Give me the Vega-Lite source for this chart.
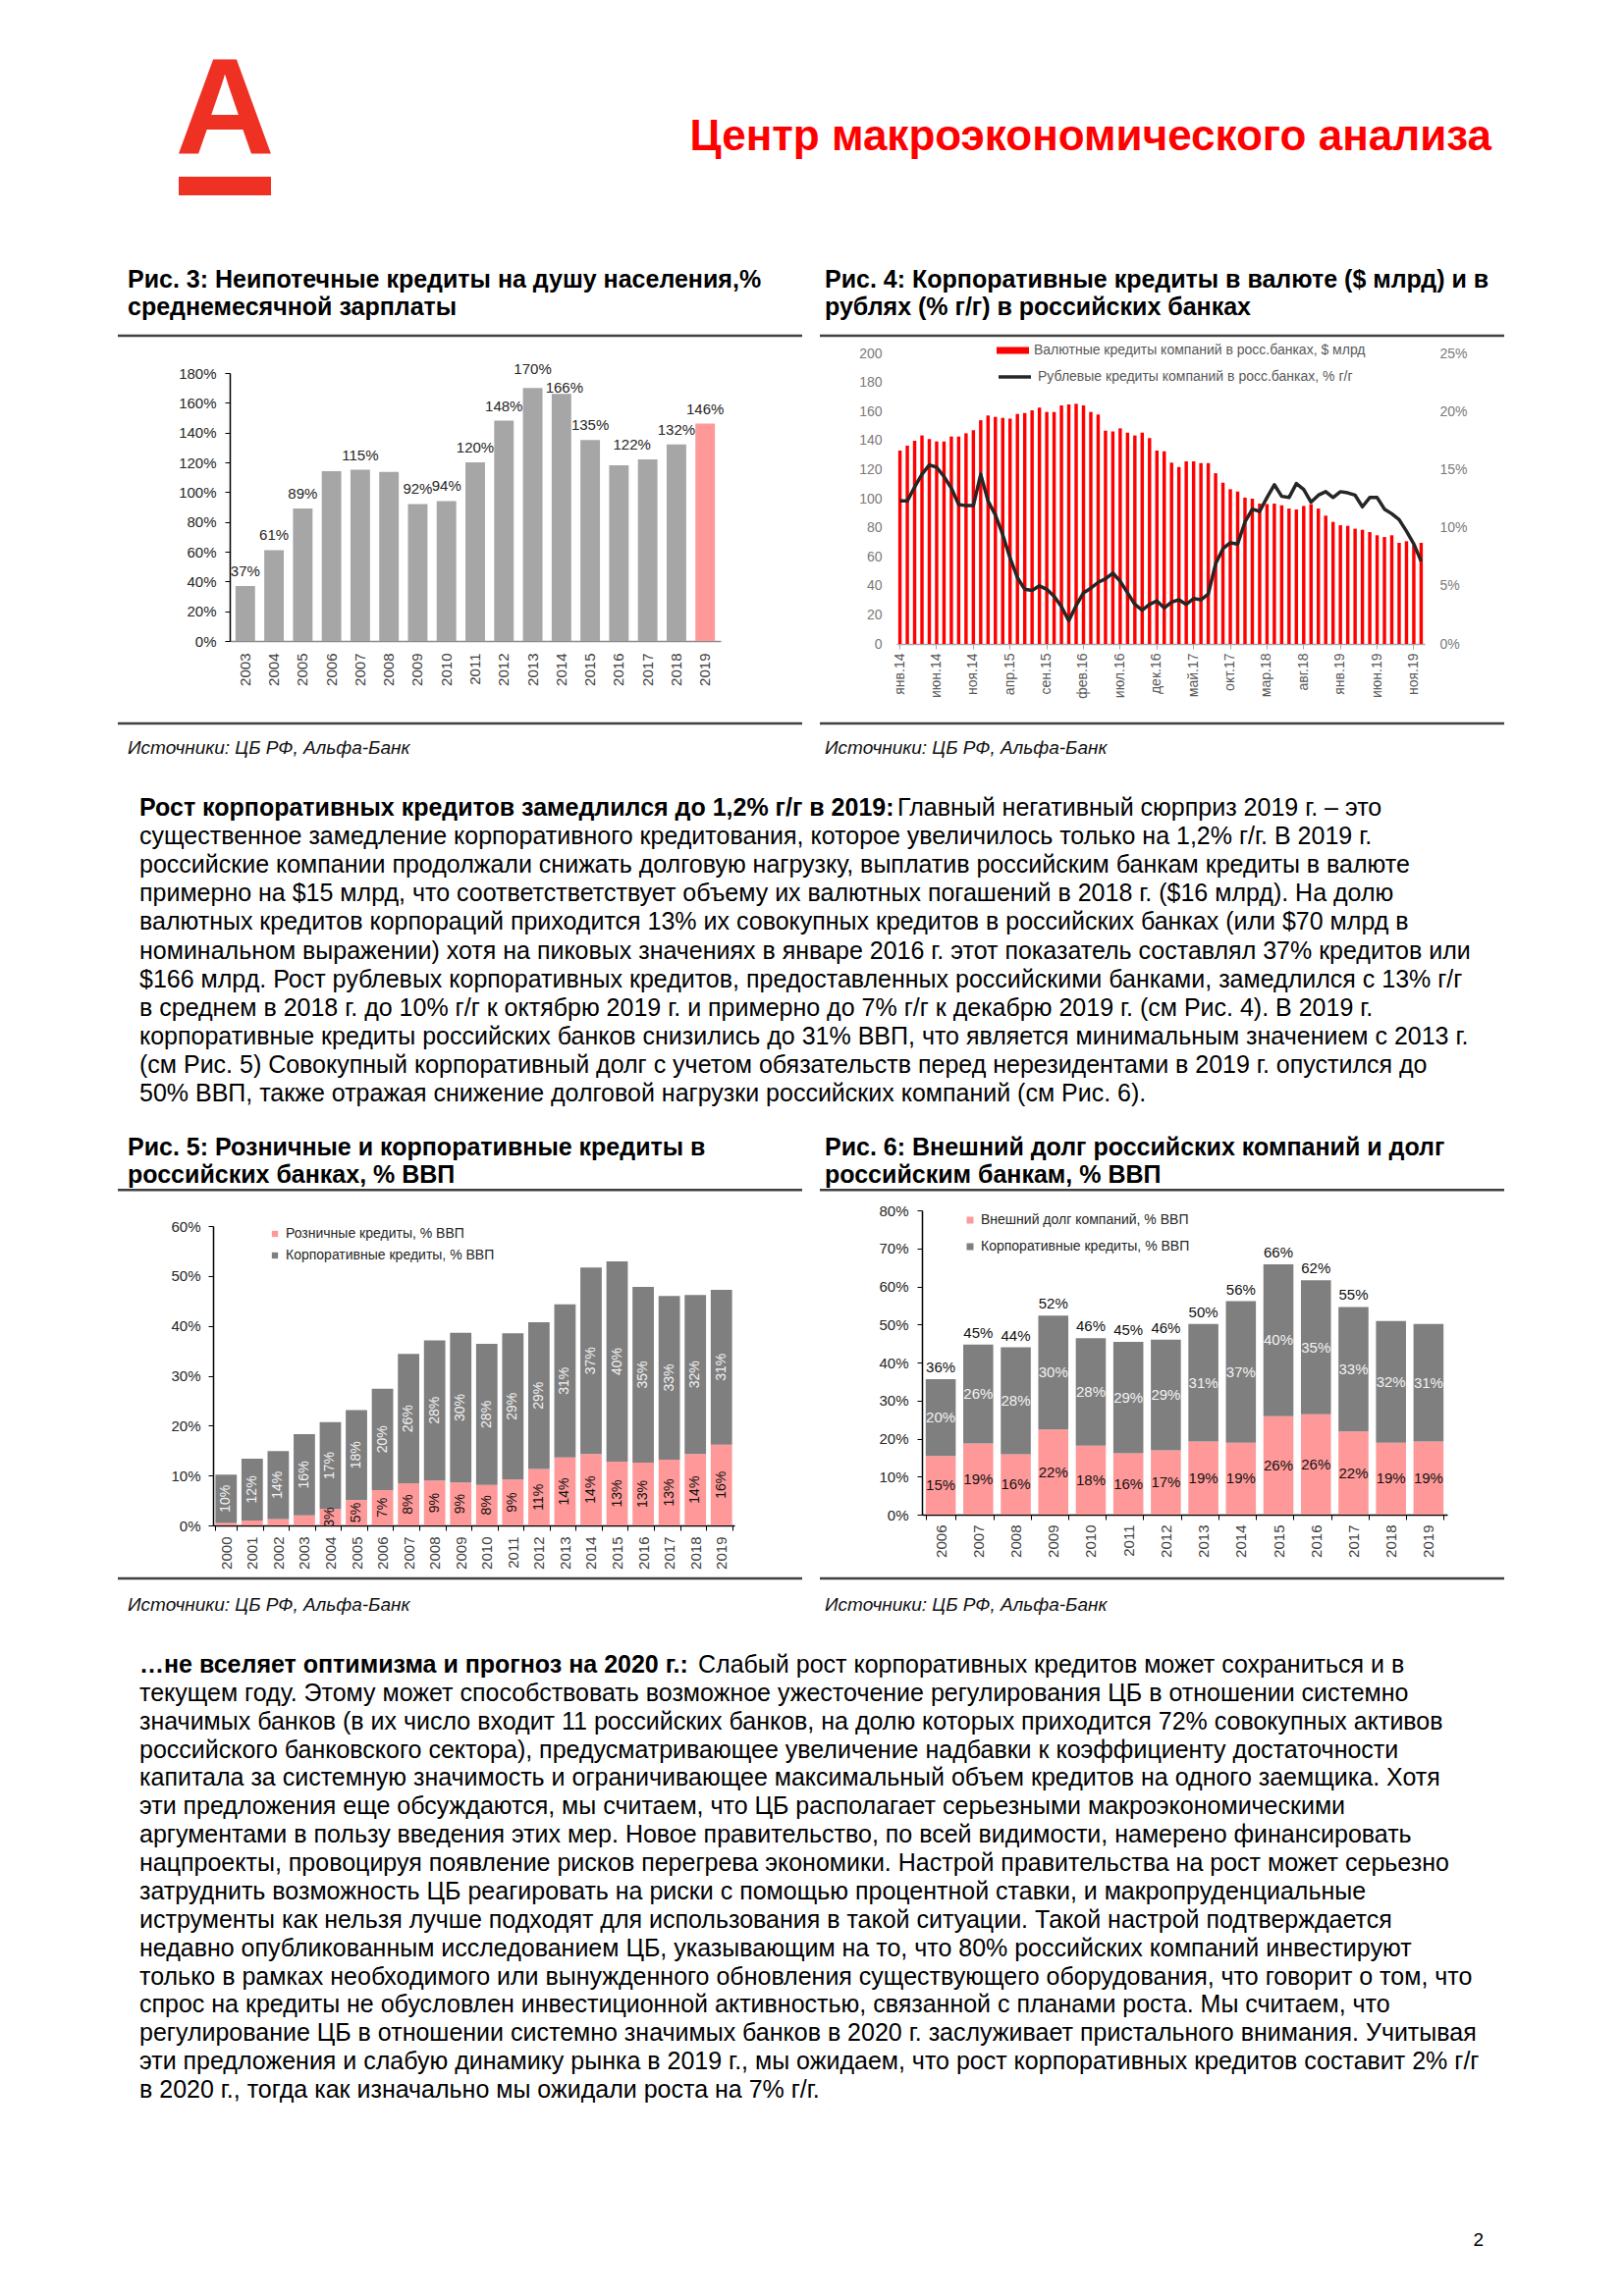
{
"$schema": "https://vega.github.io/schema/vega-lite/v6.json",
"width": 1654, "height": 2339, "autosize": {"type": "none"}, "padding": 0, "background": "white",
"config": {"view": {"stroke": null}, "font": "Liberation Sans", "axis": {"grid": false, "labelFont": "Liberation Sans"}, "legend": {"labelFont": "Liberation Sans", "padding": 0, "labelLimit": 0}, "text": {"font": "Liberation Sans"}},
"resolve": {"scale": {"x": "independent", "y": "independent", "color": "independent", "stroke": "independent"}, "axis": {"x": "independent", "y": "independent"}, "legend": {"color": "independent", "stroke": "independent"}},
"datasets": {
"fig3": [
{"year":"2003","v":0.37,"lab":"37%"},{"year":"2004","v":0.61,"lab":"61%"},{"year":"2005","v":0.89,"lab":"89%"},{"year":"2006","v":1.14,"lab":null},{"year":"2007","v":1.15,"lab":"115%"},{"year":"2008","v":1.135,"lab":null},{"year":"2009","v":0.92,"lab":"92%"},{"year":"2010","v":0.94,"lab":"94%"},{"year":"2011","v":1.2,"lab":"120%"},{"year":"2012","v":1.48,"lab":"148%"},{"year":"2013","v":1.7,"lab":"170%"},{"year":"2014","v":1.66,"lab":"166%"},{"year":"2015","v":1.35,"lab":"135%"},{"year":"2016","v":1.18,"lab":null},{"year":"2017","v":1.22,"lab":"122%"},{"year":"2018","v":1.32,"lab":"132%"},{"year":"2019","v":1.46,"lab":"146%"}
],
"fig4": [
{"m":"янв.14","usd":133.1,"rub":0.123},{"m":"фев.14","usd":136.5,"rub":0.123},{"m":"мар.14","usd":139.9,"rub":0.135},{"m":"апр.14","usd":143.5,"rub":0.146},{"m":"май.14","usd":141.0,"rub":0.154},{"m":"июн.14","usd":139.4,"rub":0.152},{"m":"июл.14","usd":139.4,"rub":0.144},{"m":"авг.14","usd":142.8,"rub":0.134},{"m":"сен.14","usd":142.8,"rub":0.12},{"m":"окт.14","usd":145.0,"rub":0.119},{"m":"ноя.14","usd":147.1,"rub":0.119},{"m":"дек.14","usd":154.0,"rub":0.146},
{"m":"янв.15","usd":157.2,"rub":0.123},{"m":"фев.15","usd":156.3,"rub":0.111},{"m":"мар.15","usd":155.6,"rub":0.094},{"m":"апр.15","usd":155.1,"rub":0.074},{"m":"май.15","usd":158.3,"rub":0.057},{"m":"июн.15","usd":159.0,"rub":0.047},{"m":"июл.15","usd":160.8,"rub":0.046},{"m":"авг.15","usd":162.6,"rub":0.05},{"m":"сен.15","usd":159.7,"rub":0.047},{"m":"окт.15","usd":159.7,"rub":0.041},{"m":"ноя.15","usd":164.2,"rub":0.032},{"m":"дек.15","usd":164.8,"rub":0.02},
{"m":"янв.16","usd":165.3,"rub":0.033},{"m":"фев.16","usd":164.2,"rub":0.044},{"m":"мар.16","usd":159.7,"rub":0.048},{"m":"апр.16","usd":157.9,"rub":0.053},{"m":"май.16","usd":146.8,"rub":0.056},{"m":"июн.16","usd":146.2,"rub":0.061},{"m":"июл.16","usd":148.4,"rub":0.054},{"m":"авг.16","usd":145.5,"rub":0.044},{"m":"сен.16","usd":143.5,"rub":0.034},{"m":"окт.16","usd":145.5,"rub":0.029},{"m":"ноя.16","usd":141.7,"rub":0.034},{"m":"дек.16","usd":133.1,"rub":0.037},
{"m":"янв.17","usd":132.6,"rub":0.031},{"m":"фев.17","usd":124.8,"rub":0.036},{"m":"мар.17","usd":121.8,"rub":0.038},{"m":"апр.17","usd":125.7,"rub":0.034},{"m":"май.17","usd":125.7,"rub":0.039},{"m":"июн.17","usd":124.5,"rub":0.038},{"m":"июл.17","usd":124.5,"rub":0.043},{"m":"авг.17","usd":117.5,"rub":0.069},{"m":"сен.17","usd":111.0,"rub":0.082},{"m":"окт.17","usd":106.5,"rub":0.087},{"m":"ноя.17","usd":104.9,"rub":0.086},{"m":"дек.17","usd":100.7,"rub":0.105},
{"m":"янв.18","usd":100.0,"rub":0.116},{"m":"фев.18","usd":96.6,"rub":0.114},{"m":"мар.18","usd":96.2,"rub":0.126},{"m":"апр.18","usd":96.6,"rub":0.137},{"m":"май.18","usd":95.5,"rub":0.127},{"m":"июн.18","usd":93.2,"rub":0.126},{"m":"июл.18","usd":92.6,"rub":0.138},{"m":"авг.18","usd":95.0,"rub":0.133},{"m":"сен.18","usd":96.2,"rub":0.122},{"m":"окт.18","usd":93.2,"rub":0.128},{"m":"ноя.18","usd":88.3,"rub":0.131},{"m":"дек.18","usd":84.0,"rub":0.126},
{"m":"янв.19","usd":81.7,"rub":0.131},{"m":"фев.19","usd":81.3,"rub":0.13},{"m":"мар.19","usd":79.3,"rub":0.128},{"m":"апр.19","usd":78.6,"rub":0.118},{"m":"май.19","usd":77.0,"rub":0.126},{"m":"июн.19","usd":74.8,"rub":0.126},{"m":"июл.19","usd":73.6,"rub":0.116},{"m":"авг.19","usd":74.8,"rub":0.112},{"m":"сен.19","usd":69.6,"rub":0.107},{"m":"окт.19","usd":70.7,"rub":0.097},{"m":"ноя.19","usd":68.0,"rub":0.086},{"m":"дек.19","usd":69.6,"rub":0.071}
],
"fig5": [
{"year":"2000","s":"Розничные кредиты, % ВВП","v":0.005},{"year":"2000","s":"Корпоративные кредиты, % ВВП","v":0.097},
{"year":"2001","s":"Розничные кредиты, % ВВП","v":0.010},{"year":"2001","s":"Корпоративные кредиты, % ВВП","v":0.124},
{"year":"2002","s":"Розничные кредиты, % ВВП","v":0.013},{"year":"2002","s":"Корпоративные кредиты, % ВВП","v":0.136},
{"year":"2003","s":"Розничные кредиты, % ВВП","v":0.020},{"year":"2003","s":"Корпоративные кредиты, % ВВП","v":0.163},
{"year":"2004","s":"Розничные кредиты, % ВВП","v":0.033},{"year":"2004","s":"Корпоративные кредиты, % ВВП","v":0.174},
{"year":"2005","s":"Розничные кредиты, % ВВП","v":0.051},{"year":"2005","s":"Корпоративные кредиты, % ВВП","v":0.180},
{"year":"2006","s":"Розничные кредиты, % ВВП","v":0.071},{"year":"2006","s":"Корпоративные кредиты, % ВВП","v":0.203},
{"year":"2007","s":"Розничные кредиты, % ВВП","v":0.084},{"year":"2007","s":"Корпоративные кредиты, % ВВП","v":0.260},
{"year":"2008","s":"Розничные кредиты, % ВВП","v":0.090},{"year":"2008","s":"Корпоративные кредиты, % ВВП","v":0.281},
{"year":"2009","s":"Розничные кредиты, % ВВП","v":0.086},{"year":"2009","s":"Корпоративные кредиты, % ВВП","v":0.300},
{"year":"2010","s":"Розничные кредиты, % ВВП","v":0.081},{"year":"2010","s":"Корпоративные кредиты, % ВВП","v":0.283},
{"year":"2011","s":"Розничные кредиты, % ВВП","v":0.092},{"year":"2011","s":"Корпоративные кредиты, % ВВП","v":0.293},
{"year":"2012","s":"Розничные кредиты, % ВВП","v":0.113},{"year":"2012","s":"Корпоративные кредиты, % ВВП","v":0.294},
{"year":"2013","s":"Розничные кредиты, % ВВП","v":0.136},{"year":"2013","s":"Корпоративные кредиты, % ВВП","v":0.307},
{"year":"2014","s":"Розничные кредиты, % ВВП","v":0.143},{"year":"2014","s":"Корпоративные кредиты, % ВВП","v":0.374},
{"year":"2015","s":"Розничные кредиты, % ВВП","v":0.128},{"year":"2015","s":"Корпоративные кредиты, % ВВП","v":0.401},
{"year":"2016","s":"Розничные кредиты, % ВВП","v":0.126},{"year":"2016","s":"Корпоративные кредиты, % ВВП","v":0.352},
{"year":"2017","s":"Розничные кредиты, % ВВП","v":0.132},{"year":"2017","s":"Корпоративные кредиты, % ВВП","v":0.328},
{"year":"2018","s":"Розничные кредиты, % ВВП","v":0.143},{"year":"2018","s":"Корпоративные кредиты, % ВВП","v":0.319},
{"year":"2019","s":"Розничные кредиты, % ВВП","v":0.162},{"year":"2019","s":"Корпоративные кредиты, % ВВП","v":0.310}
],
"fig6": [
{"year":"2006","s":"Внешний долг компаний, % ВВП","v":0.154},{"year":"2006","s":"Корпоративные кредиты, % ВВП","v":0.202},
{"year":"2007","s":"Внешний долг компаний, % ВВП","v":0.187},{"year":"2007","s":"Корпоративные кредиты, % ВВП","v":0.260},
{"year":"2008","s":"Внешний долг компаний, % ВВП","v":0.159},{"year":"2008","s":"Корпоративные кредиты, % ВВП","v":0.281},
{"year":"2009","s":"Внешний долг компаний, % ВВП","v":0.224},{"year":"2009","s":"Корпоративные кредиты, % ВВП","v":0.299},
{"year":"2010","s":"Внешний долг компаний, % ВВП","v":0.181},{"year":"2010","s":"Корпоративные кредиты, % ВВП","v":0.283},
{"year":"2011","s":"Внешний долг компаний, % ВВП","v":0.161},{"year":"2011","s":"Корпоративные кредиты, % ВВП","v":0.293},
{"year":"2012","s":"Внешний долг компаний, % ВВП","v":0.169},{"year":"2012","s":"Корпоративные кредиты, % ВВП","v":0.291},
{"year":"2013","s":"Внешний долг компаний, % ВВП","v":0.192},{"year":"2013","s":"Корпоративные кредиты, % ВВП","v":0.309},
{"year":"2014","s":"Внешний долг компаний, % ВВП","v":0.189},{"year":"2014","s":"Корпоративные кредиты, % ВВП","v":0.372},
{"year":"2015","s":"Внешний долг компаний, % ВВП","v":0.259},{"year":"2015","s":"Корпоративные кредиты, % ВВП","v":0.399},
{"year":"2016","s":"Внешний долг компаний, % ВВП","v":0.264},{"year":"2016","s":"Корпоративные кредиты, % ВВП","v":0.352},
{"year":"2017","s":"Внешний долг компаний, % ВВП","v":0.219},{"year":"2017","s":"Корпоративные кредиты, % ВВП","v":0.327},
{"year":"2018","s":"Внешний долг компаний, % ВВП","v":0.189},{"year":"2018","s":"Корпоративные кредиты, % ВВП","v":0.320},
{"year":"2019","s":"Внешний долг компаний, % ВВП","v":0.192},{"year":"2019","s":"Корпоративные кредиты, % ВВП","v":0.309}
],
"p1": [
{"ln":1,"part":"lead","t":"Рост корпоративных кредитов замедлился до 1,2% г/г в 2019:"},
{"ln":1,"part":"rest","t":"Главный негативный сюрприз 2019 г. – это"},
{"ln":2,"part":"body","t":"существенное замедление корпоративного кредитования, которое увеличилось только на 1,2% г/г. В 2019 г."},
{"ln":3,"part":"body","t":"российские компании продолжали снижать долговую нагрузку, выплатив российским банкам кредиты в валюте"},
{"ln":4,"part":"body","t":"примерно на $15 млрд, что соответстветствует объему их валютных погашений в 2018 г. ($16 млрд). На долю"},
{"ln":5,"part":"body","t":"валютных кредитов корпораций приходится 13% их совокупных кредитов в российских банках (или $70 млрд в"},
{"ln":6,"part":"body","t":"номинальном выражении) хотя на пиковых значениях в январе 2016 г. этот показатель составлял 37% кредитов или"},
{"ln":7,"part":"body","t":"$166 млрд. Рост рублевых корпоративных кредитов, предоставленных российскими банками, замедлился с 13% г/г"},
{"ln":8,"part":"body","t":"в среднем в 2018 г. до 10% г/г к октябрю 2019 г. и примерно до 7% г/г к декабрю 2019 г. (см Рис. 4). В 2019 г."},
{"ln":9,"part":"body","t":"корпоративные кредиты российских банков снизились до 31% ВВП, что является минимальным значением с 2013 г."},
{"ln":10,"part":"body","t":"(см Рис. 5) Совокупный корпоративный долг с учетом обязательств перед нерезидентами в 2019 г. опустился до"},
{"ln":11,"part":"body","t":"50% ВВП, также отражая снижение долговой нагрузки российских компаний (см Рис. 6)."}
],
"p2": [
{"ln":1,"part":"lead","t":"…не вселяет оптимизма и прогноз на 2020 г.:"},
{"ln":1,"part":"rest","t":"Слабый рост корпоративных кредитов может сохраниться и в"},
{"ln":2,"part":"body","t":"текущем году. Этому может способствовать возможное ужесточение регулирования ЦБ в отношении системно"},
{"ln":3,"part":"body","t":"значимых банков (в их число входит 11 российских банков, на долю которых приходится 72% совокупных активов"},
{"ln":4,"part":"body","t":"российского банковского сектора), предусматривающее увеличение надбавки к коэффициенту достаточности"},
{"ln":5,"part":"body","t":"капитала за системную значимость и ограничивающее максимальный объем кредитов на одного заемщика. Хотя"},
{"ln":6,"part":"body","t":"эти предложения еще обсуждаются, мы считаем, что ЦБ располагает серьезными макроэкономическими"},
{"ln":7,"part":"body","t":"аргументами в пользу введения этих мер. Новое правительство, по всей видимости, намерено финансировать"},
{"ln":8,"part":"body","t":"нацпроекты, провоцируя появление рисков перегрева экономики. Настрой правительства на рост может серьезно"},
{"ln":9,"part":"body","t":"затруднить возможность ЦБ реагировать на риски с помощью процентной ставки, и макропруденциальные"},
{"ln":10,"part":"body","t":"иструменты как нельзя лучше подходят для использования в такой ситуации. Такой настрой подтверждается"},
{"ln":11,"part":"body","t":"недавно опубликованным исследованием ЦБ, указывающим на то, что 80% российских компаний инвестируют"},
{"ln":12,"part":"body","t":"только в рамках необходимого или вынужденного обновления существующего оборудования, что говорит о том, что"},
{"ln":13,"part":"body","t":"спрос на кредиты не обусловлен инвестиционной активностью, связанной с планами роста. Мы считаем, что"},
{"ln":14,"part":"body","t":"регулирование ЦБ в отношении системно значимых банков в 2020 г. заслуживает пристального внимания. Учитывая"},
{"ln":15,"part":"body","t":"эти предложения и слабую динамику рынка в 2019 г., мы ожидаем, что рост корпоративных кредитов составит 2% г/г"},
{"ln":16,"part":"body","t":"в 2020 г., тогда как изначально мы ожидали роста на 7% г/г."}
]
},
"layer": [
{"data": {"values": [{"t": "А"}]},
 "mark": {"type": "text", "fontSize": 140, "fontWeight": "bold", "color": "#ef3124", "align": "center", "baseline": "alphabetic"},
 "encoding": {"text": {"field": "t"},
  "x": {"datum": 229, "type": "quantitative", "scale": {"domain": [0, 1654], "range": [0, 1654], "nice": false, "zero": false}, "axis": null},
  "y": {"datum": 157, "type": "quantitative", "scale": {"domain": [0, 2339], "range": [0, 2339], "nice": false, "zero": false}, "axis": null}}},
{"data": {"values": [{"t": "bar"}]},
 "mark": {"type": "rect", "color": "#ef3124"},
 "encoding": {
  "x": {"datum": 182, "type": "quantitative", "scale": {"domain": [0, 1654], "range": [0, 1654], "nice": false, "zero": false}, "axis": null}, "x2": {"datum": 276},
  "y": {"datum": 180, "type": "quantitative", "scale": {"domain": [0, 2339], "range": [0, 2339], "nice": false, "zero": false}, "axis": null}, "y2": {"datum": 199}}},
{"data": {"values": [{"t": "Центр макроэкономического анализа"}]},
 "mark": {"type": "text", "fontSize": 44, "fontWeight": "bold", "color": "#ff0000", "align": "right", "baseline": "alphabetic"},
 "encoding": {"text": {"field": "t"},
  "x": {"datum": 1519, "type": "quantitative", "scale": {"domain": [0, 1654], "range": [0, 1654], "nice": false, "zero": false}, "axis": null},
  "y": {"datum": 153, "type": "quantitative", "scale": {"domain": [0, 2339], "range": [0, 2339], "nice": false, "zero": false}, "axis": null}}},
{"data": {"values": [{"col": "L"}, {"col": "R"}]}, "mark": {"type": "bar", "color": "#404040"},
 "encoding": {"x": {"field": "col", "type": "nominal", "scale": {"type": "band", "domain": ["L", "R"], "range": [120, 1532], "paddingInner": 0.0252, "paddingOuter": 0}, "axis": null},
  "y": {"datum": 340.8, "type": "quantitative", "scale": {"domain": [0, 2339], "range": [0, 2339], "nice": false, "zero": false}, "axis": null}, "y2": {"datum": 343.2}}},
{"data": {"values": [{"col": "L"}, {"col": "R"}]}, "mark": {"type": "bar", "color": "#404040"},
 "encoding": {"x": {"field": "col", "type": "nominal", "scale": {"type": "band", "domain": ["L", "R"], "range": [120, 1532], "paddingInner": 0.0252, "paddingOuter": 0}, "axis": null},
  "y": {"datum": 735.8, "type": "quantitative", "scale": {"domain": [0, 2339], "range": [0, 2339], "nice": false, "zero": false}, "axis": null}, "y2": {"datum": 738.2}}},
{"data": {"values": [{"col": "L"}, {"col": "R"}]}, "mark": {"type": "bar", "color": "#404040"},
 "encoding": {"x": {"field": "col", "type": "nominal", "scale": {"type": "band", "domain": ["L", "R"], "range": [120, 1532], "paddingInner": 0.0252, "paddingOuter": 0}, "axis": null},
  "y": {"datum": 1211.0, "type": "quantitative", "scale": {"domain": [0, 2339], "range": [0, 2339], "nice": false, "zero": false}, "axis": null}, "y2": {"datum": 1213.4}}},
{"data": {"values": [{"col": "L"}, {"col": "R"}]}, "mark": {"type": "bar", "color": "#404040"},
 "encoding": {"x": {"field": "col", "type": "nominal", "scale": {"type": "band", "domain": ["L", "R"], "range": [120, 1532], "paddingInner": 0.0252, "paddingOuter": 0}, "axis": null},
  "y": {"datum": 1606.8, "type": "quantitative", "scale": {"domain": [0, 2339], "range": [0, 2339], "nice": false, "zero": false}, "axis": null}, "y2": {"datum": 1609.2}}},
{"data": {"values": [
  {"col": "L", "ln": 1, "t": "Рис. 3: Неипотечные кредиты на душу населения,%"},
  {"col": "L", "ln": 2, "t": "среднемесячной зарплаты"},
  {"col": "R", "ln": 1, "t": "Рис. 4: Корпоративные кредиты в валюте ($ млрд) и в"},
  {"col": "R", "ln": 2, "t": "рублях (% г/г) в российских банках"}]},
 "mark": {"type": "text", "fontSize": 25, "fontWeight": "bold", "color": "#000000", "align": "left", "baseline": "alphabetic"},
 "encoding": {"text": {"field": "t"},
  "x": {"field": "col", "type": "nominal", "scale": {"type": "point", "domain": ["L", "R"], "range": [130, 840], "padding": 0}, "axis": null},
  "y": {"field": "ln", "type": "quantitative", "scale": {"domain": [1, 2], "range": [293, 321], "nice": false, "zero": false}, "axis": null}}},
{"data": {"values": [
  {"col": "L", "ln": 1, "t": "Рис. 5: Розничные и корпоративные кредиты в"},
  {"col": "L", "ln": 2, "t": "российских банках, % ВВП"},
  {"col": "R", "ln": 1, "t": "Рис. 6: Внешний долг российских компаний и долг"},
  {"col": "R", "ln": 2, "t": "российским банкам, % ВВП"}]},
 "mark": {"type": "text", "fontSize": 25, "fontWeight": "bold", "color": "#000000", "align": "left", "baseline": "alphabetic"},
 "encoding": {"text": {"field": "t"},
  "x": {"field": "col", "type": "nominal", "scale": {"type": "point", "domain": ["L", "R"], "range": [130, 840], "padding": 0}, "axis": null},
  "y": {"field": "ln", "type": "quantitative", "scale": {"domain": [1, 2], "range": [1177, 1205], "nice": false, "zero": false}, "axis": null}}},
{"data": {"values": [
  {"col": "L", "row": 1, "t": "Источники: ЦБ РФ, Альфа-Банк"},
  {"col": "R", "row": 1, "t": "Источники: ЦБ РФ, Альфа-Банк"},
  {"col": "L", "row": 2, "t": "Источники: ЦБ РФ, Альфа-Банк"},
  {"col": "R", "row": 2, "t": "Источники: ЦБ РФ, Альфа-Банк"}]},
 "mark": {"type": "text", "fontSize": 19, "fontStyle": "italic", "color": "#111111", "align": "left", "baseline": "alphabetic"},
 "encoding": {"text": {"field": "t"},
  "x": {"field": "col", "type": "nominal", "scale": {"type": "point", "domain": ["L", "R"], "range": [130, 840], "padding": 0}, "axis": null},
  "y": {"field": "row", "type": "quantitative", "scale": {"domain": [1, 2], "range": [768, 1641], "nice": false, "zero": false}, "axis": null}}},
{"data": {"values": [{"t": "2"}]},
 "mark": {"type": "text", "fontSize": 19, "color": "#000000", "align": "right", "baseline": "alphabetic"},
 "encoding": {"text": {"field": "t"},
  "x": {"datum": 1511, "type": "quantitative", "scale": {"domain": [0, 1654], "range": [0, 1654], "nice": false, "zero": false}, "axis": null},
  "y": {"datum": 2288, "type": "quantitative", "scale": {"domain": [0, 2339], "range": [0, 2339], "nice": false, "zero": false}, "axis": null}}},

{"data": {"name": "fig3"},
 "layer": [
  {"mark": {"type": "bar"},
   "encoding": {
    "x": {"field": "year", "type": "ordinal", "scale": {"type": "band", "range": [234, 734], "paddingInner": 0.32, "paddingOuter": 0.2},
      "axis": {"orient": "bottom", "offset": -1686, "title": null, "labelAngle": -90, "labelFontSize": 15, "labelColor": "#404040", "ticks": false, "labelPadding": 12, "domainColor": "#8c8c8c", "domainWidth": 1.5}},
    "y": {"field": "v", "type": "quantitative", "scale": {"domain": [0, 1.8], "range": [653, 380], "nice": false},
      "axis": {"orient": "left", "offset": -234, "title": null, "format": ".0%", "values": [0, 0.2, 0.4, 0.6, 0.8, 1, 1.2, 1.4, 1.6, 1.8], "labelFontSize": 15, "labelColor": "#262626", "tickSize": 5, "tickColor": "#000000", "domainColor": "#000000", "domainWidth": 1.5, "labelPadding": 9}},
    "color": {"condition": {"test": "datum.year === '2019'", "value": "#ff9999"}, "value": "#a6a6a6"}}},
  {"transform": [{"filter": "datum.lab != null && datum.year !== '2013' && datum.year !== '2014' && datum.year !== '2017'"}],
   "mark": {"type": "text", "fontSize": 15, "color": "#262626", "baseline": "alphabetic", "dy": -10},
   "encoding": {"x": {"field": "year", "type": "ordinal"}, "y": {"field": "v", "type": "quantitative"}, "text": {"field": "lab"}}},
  {"transform": [{"filter": "datum.year === '2013'"}],
   "mark": {"type": "text", "fontSize": 15, "color": "#262626", "baseline": "alphabetic", "dy": -14},
   "encoding": {"x": {"field": "year", "type": "ordinal"}, "y": {"field": "v", "type": "quantitative"}, "text": {"field": "lab"}}},
  {"transform": [{"filter": "datum.year === '2014'"}],
   "mark": {"type": "text", "fontSize": 15, "color": "#262626", "baseline": "alphabetic", "dy": -1, "dx": 3},
   "encoding": {"x": {"field": "year", "type": "ordinal"}, "y": {"field": "v", "type": "quantitative"}, "text": {"field": "lab"}}},
  {"transform": [{"filter": "datum.year === '2017'"}],
   "mark": {"type": "text", "fontSize": 15, "color": "#262626", "baseline": "alphabetic", "dy": -10, "dx": -16},
   "encoding": {"x": {"field": "year", "type": "ordinal"}, "y": {"field": "v", "type": "quantitative"}, "text": {"field": "lab"}}}
 ]},

{"data": {"name": "fig4"},
 "resolve": {"scale": {"y": "independent"}, "axis": {"y": "independent"}},
 "layer": [
  {"mark": {"type": "bar"},
   "encoding": {
    "x": {"field": "m", "type": "ordinal", "sort": null, "scale": {"type": "band", "range": [913, 1451], "paddingInner": 0.54, "paddingOuter": 0.25},
      "axis": {"orient": "bottom", "offset": -1683, "title": null, "values": ["янв.14", "июн.14", "ноя.14", "апр.15", "сен.15", "фев.16", "июл.16", "дек.16", "май.17", "окт.17", "мар.18", "авг.18", "янв.19", "июн.19", "ноя.19"], "labelAngle": -90, "labelFontSize": 14, "labelColor": "#595959", "tickSize": 5, "tickColor": "#a6a6a6", "domainColor": "#a6a6a6", "domainWidth": 1.5, "labelPadding": 4}},
    "y": {"field": "usd", "type": "quantitative", "scale": {"domain": [0, 200], "range": [656, 360], "nice": false},
      "axis": {"orient": "left", "offset": -913, "title": null, "values": [0, 20, 40, 60, 80, 100, 120, 140, 160, 180, 200], "labelFontSize": 14, "labelColor": "#7a7a7a", "ticks": false, "domain": false, "labelPadding": 15}},
    "color": {"datum": "Валютные кредиты компаний в росс.банках, $ млрд", "type": "nominal", "scale": {"range": ["#ff0000"]},
      "legend": {"orient": "none", "legendX": 1015, "legendY": 340.5, "title": null, "symbolType": "M-1,-0.21H1V0.21H-1Z", "symbolSize": 1089, "symbolStrokeWidth": 0, "labelFontSize": 14, "labelColor": "#595959", "labelOffset": 5, "labelLimit": 0}}}},
  {"mark": {"type": "line", "strokeWidth": 3.5, "strokeJoin": "round"},
   "encoding": {
    "x": {"field": "m", "type": "ordinal", "sort": null},
    "y": {"field": "rub", "type": "quantitative", "scale": {"domain": [0, 0.25], "range": [656, 360], "nice": false},
      "axis": {"orient": "right", "offset": -203, "title": null, "format": ".0%", "values": [0, 0.05, 0.1, 0.15, 0.2, 0.25], "labelFontSize": 14, "labelColor": "#7a7a7a", "ticks": false, "domain": false, "labelPadding": 15}},
    "order": {"value": null},
    "stroke": {"datum": "Рублевые кредиты компаний в росс.банках, % г/г", "type": "nominal", "scale": {"range": ["#262626"]},
      "legend": {"orient": "none", "legendX": 1015, "legendY": 365.5, "title": null, "symbolType": "stroke", "symbolSize": 1089, "symbolStrokeWidth": 3.5, "labelFontSize": 14, "labelColor": "#595959", "labelOffset": 5, "labelLimit": 0}}}}
 ]},

{"data": {"name": "fig5"},
 "resolve": {"scale": {"color": "independent"}, "legend": {"color": "independent"}},
 "layer": [
  {"mark": {"type": "bar"},
   "encoding": {
    "x": {"field": "year", "type": "ordinal", "scale": {"type": "band", "range": [217, 748], "paddingInner": 0.18, "paddingOuter": 0.09},
      "axis": {"orient": "bottom", "offset": -785, "title": null, "labelAngle": -90, "labelFontSize": 15, "labelColor": "#404040", "tickBand": "extent", "tickSize": 5, "tickColor": "#000000", "domainColor": "#000000", "domainWidth": 1.5, "labelPadding": 6}},
    "y": {"field": "v", "type": "quantitative", "stack": "zero", "scale": {"domain": [0, 0.6], "range": [1554, 1249], "nice": false},
      "axis": {"orient": "left", "offset": -217, "title": null, "format": ".0%", "values": [0, 0.1, 0.2, 0.3, 0.4, 0.5, 0.6], "labelFontSize": 15, "labelColor": "#262626", "tickSize": 5, "tickColor": "#000000", "domainColor": "#000000", "domainWidth": 1.5, "labelPadding": 8}},
    "color": {"field": "s", "type": "nominal", "sort": ["Розничные кредиты, % ВВП", "Корпоративные кредиты, % ВВП"],
      "scale": {"domain": ["Розничные кредиты, % ВВП", "Корпоративные кредиты, % ВВП"], "range": ["#ff9999", "#7f7f7f"]},
      "legend": {"orient": "none", "legendX": 273, "legendY": 1250, "title": null, "symbolType": "square", "symbolSize": 40, "symbolStrokeWidth": 0, "labelFontSize": 14, "labelColor": "#262626", "labelOffset": 4, "rowPadding": 8, "labelLimit": 0}}}},
  {"mark": {"type": "text", "fontSize": 14, "angle": 270, "align": "center", "baseline": "middle"},
   "encoding": {
    "x": {"field": "year", "type": "ordinal"},
    "y": {"field": "v", "type": "quantitative", "stack": "zero", "bandPosition": 0.5},
    "color": {"field": "s", "type": "nominal", "sort": ["Розничные кредиты, % ВВП", "Корпоративные кредиты, % ВВП"],
      "scale": {"domain": ["Розничные кредиты, % ВВП", "Корпоративные кредиты, % ВВП"], "range": ["#111111", "#f2f2f2"]}, "legend": null},
    "text": {"condition": {"test": "datum.v >= 0.025", "field": "v", "type": "quantitative", "format": ".0%"}, "value": ""}}}
 ]},

{"data": {"name": "fig6"},
 "resolve": {"scale": {"color": "independent"}, "legend": {"color": "independent"}},
 "layer": [
  {"mark": {"type": "bar"},
   "encoding": {
    "x": {"field": "year", "type": "ordinal", "scale": {"type": "band", "range": [939, 1474], "paddingInner": 0.2, "paddingOuter": 0.1},
      "axis": {"orient": "bottom", "offset": -796, "title": null, "labelAngle": -90, "labelFontSize": 15, "labelColor": "#404040", "tickBand": "extent", "tickSize": 5, "tickColor": "#000000", "domainColor": "#000000", "domainWidth": 1.5, "labelPadding": 5}},
    "y": {"field": "v", "type": "quantitative", "stack": "zero", "scale": {"domain": [0, 0.8], "range": [1543, 1233], "nice": false},
      "axis": {"orient": "left", "offset": -939, "title": null, "format": ".0%", "values": [0, 0.1, 0.2, 0.3, 0.4, 0.5, 0.6, 0.7, 0.8], "labelFontSize": 15, "labelColor": "#262626", "tickSize": 5, "tickColor": "#000000", "domainColor": "#000000", "domainWidth": 1.5, "labelPadding": 9}},
    "order": {"field": "s", "sort": "ascending"},
    "color": {"field": "s", "type": "nominal", "sort": ["Внешний долг компаний, % ВВП", "Корпоративные кредиты, % ВВП"],
      "scale": {"domain": ["Внешний долг компаний, % ВВП", "Корпоративные кредиты, % ВВП"], "range": ["#ff9999", "#7f7f7f"]},
      "legend": {"orient": "none", "legendX": 981, "legendY": 1236, "title": null, "symbolType": "square", "symbolSize": 49, "symbolStrokeWidth": 0, "labelFontSize": 14, "labelColor": "#262626", "labelOffset": 4, "rowPadding": 13, "labelLimit": 0}}}},
  {"mark": {"type": "text", "fontSize": 15, "align": "center", "baseline": "middle"},
   "encoding": {
    "x": {"field": "year", "type": "ordinal"},
    "y": {"field": "v", "type": "quantitative", "stack": "zero", "bandPosition": 0.5},
    "order": {"field": "s", "sort": "ascending"},
    "color": {"field": "s", "type": "nominal", "sort": ["Внешний долг компаний, % ВВП", "Корпоративные кредиты, % ВВП"],
      "scale": {"domain": ["Внешний долг компаний, % ВВП", "Корпоративные кредиты, % ВВП"], "range": ["#111111", "#f2f2f2"]}, "legend": null},
    "text": {"field": "v", "type": "quantitative", "format": ".0%"}}},
  {"transform": [{"aggregate": [{"op": "sum", "field": "v", "as": "tot"}], "groupby": ["year"]}, {"filter": "datum.year <= '2017'"}],
   "mark": {"type": "text", "fontSize": 15, "color": "#111111", "align": "center", "baseline": "alphabetic", "dy": -7},
   "encoding": {"x": {"field": "year", "type": "ordinal"}, "y": {"field": "tot", "type": "quantitative"}, "text": {"field": "tot", "type": "quantitative", "format": ".0%"}}}
 ]},

{"data": {"name": "p1"},
 "resolve": {"scale": {"x": "independent"}},
 "layer": [
  {"transform": [{"filter": "datum.part === 'lead'"}],
   "mark": {"type": "text", "fontSize": 25, "fontWeight": "bold", "color": "#000000", "align": "left", "baseline": "alphabetic"},
   "encoding": {"text": {"field": "t"},
    "x": {"datum": 142, "type": "quantitative", "scale": {"domain": [0, 1654], "range": [0, 1654], "nice": false, "zero": false}, "axis": null},
    "y": {"field": "ln", "type": "quantitative", "scale": {"domain": [1, 11], "range": [831, 1122], "nice": false, "zero": false}, "axis": null}}},
  {"transform": [{"filter": "datum.part !== 'lead'"}],
   "mark": {"type": "text", "fontSize": 25, "color": "#000000", "align": "left", "baseline": "alphabetic"},
   "encoding": {"text": {"field": "t"},
    "x": {"field": "part", "type": "nominal", "scale": {"type": "point", "domain": ["body", "rest"], "range": [142, 914], "padding": 0}, "axis": null},
    "y": {"field": "ln", "type": "quantitative", "axis": null}}}
 ]},

{"data": {"name": "p2"},
 "resolve": {"scale": {"x": "independent"}},
 "layer": [
  {"transform": [{"filter": "datum.part === 'lead'"}],
   "mark": {"type": "text", "fontSize": 25, "fontWeight": "bold", "color": "#000000", "align": "left", "baseline": "alphabetic"},
   "encoding": {"text": {"field": "t"},
    "x": {"datum": 142, "type": "quantitative", "scale": {"domain": [0, 1654], "range": [0, 1654], "nice": false, "zero": false}, "axis": null},
    "y": {"field": "ln", "type": "quantitative", "scale": {"domain": [1, 16], "range": [1704, 2137], "nice": false, "zero": false}, "axis": null}}},
  {"transform": [{"filter": "datum.part !== 'lead'"}],
   "mark": {"type": "text", "fontSize": 25, "color": "#000000", "align": "left", "baseline": "alphabetic"},
   "encoding": {"text": {"field": "t"},
    "x": {"field": "part", "type": "nominal", "scale": {"type": "point", "domain": ["body", "rest"], "range": [142, 711], "padding": 0}, "axis": null},
    "y": {"field": "ln", "type": "quantitative", "axis": null}}}
 ]}
]
}
